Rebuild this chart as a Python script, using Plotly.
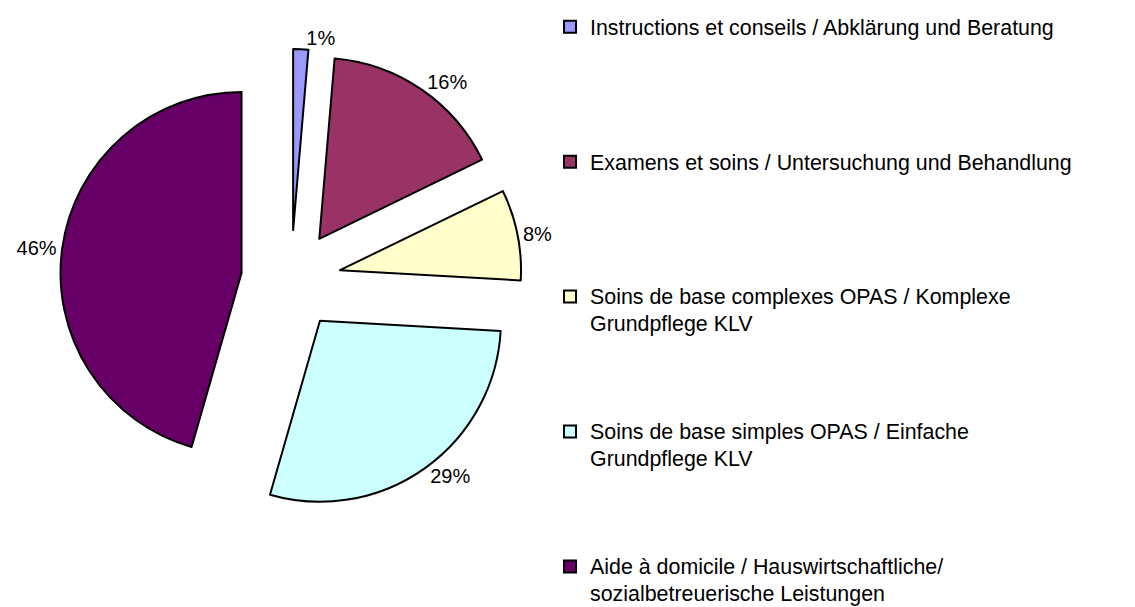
import plotly.graph_objects as go

label_lines = [
    ["Instructions et conseils / Abklärung und Beratung"],
    ["Examens et soins / Untersuchung und Behandlung"],
    ["Soins de base complexes OPAS / Komplexe", "Grundpflege KLV"],
    ["Soins de base simples OPAS / Einfache", "Grundpflege KLV"],
    ["Aide à domicile / Hauswirtschaftliche/", "sozialbetreuerische Leistungen"],
]
values = [1.35, 16.45, 8.1, 28.55, 45.55]
colors = ["#9999FF", "#993366", "#FFFFCC", "#CCFFFF", "#660066"]
# padding lines so legend entries are evenly spaced like the original
pad_lines = [4, 4, 3, 3, 0]


def legend_text(lines, pad):
    styled = ['<span style="font-size:21.4px">' + ln + "</span>" for ln in lines]
    return "<br>".join(styled) + "<br> " * pad


legend_labels = [legend_text(l, n) for l, n in zip(label_lines, pad_lines)]

fig = go.Figure(
    go.Pie(
        labels=legend_labels,
        values=values,
        sort=False,
        direction="clockwise",
        rotation=0,
        pull=[0.276] * len(values),
        marker=dict(colors=colors, line=dict(color="#000000", width=2)),
        textposition="outside",
        texttemplate="%{percent:.0%}",
        textfont=dict(family="Liberation Sans, Arial, sans-serif", size=20, color="#000000"),
        hoverinfo="percent",
        domain=dict(x=[0.0529, 0.4599], y=[0.1582, 0.9193]),
    )
)

fig.update_layout(
    width=1135,
    height=607,
    margin=dict(l=0, r=0, t=0, b=0, autoexpand=False),
    paper_bgcolor="#FFFFFF",
    plot_bgcolor="#FFFFFF",
    font=dict(family="Liberation Sans, Arial, sans-serif", color="#000000"),
    showlegend=True,
    legend=dict(
        x=0.4846,
        xanchor="left",
        y=0.9885,
        yanchor="top",
        valign="top",
        font=dict(family="Liberation Sans, Arial, sans-serif", size=20.3, color="#000000"),
        bgcolor="rgba(0,0,0,0)",
        traceorder="normal",
    ),
)

fig.write_html(
    "out.html",
    config={"displayModeBar": False},
    post_script="document.body.style.margin='0';",
)
